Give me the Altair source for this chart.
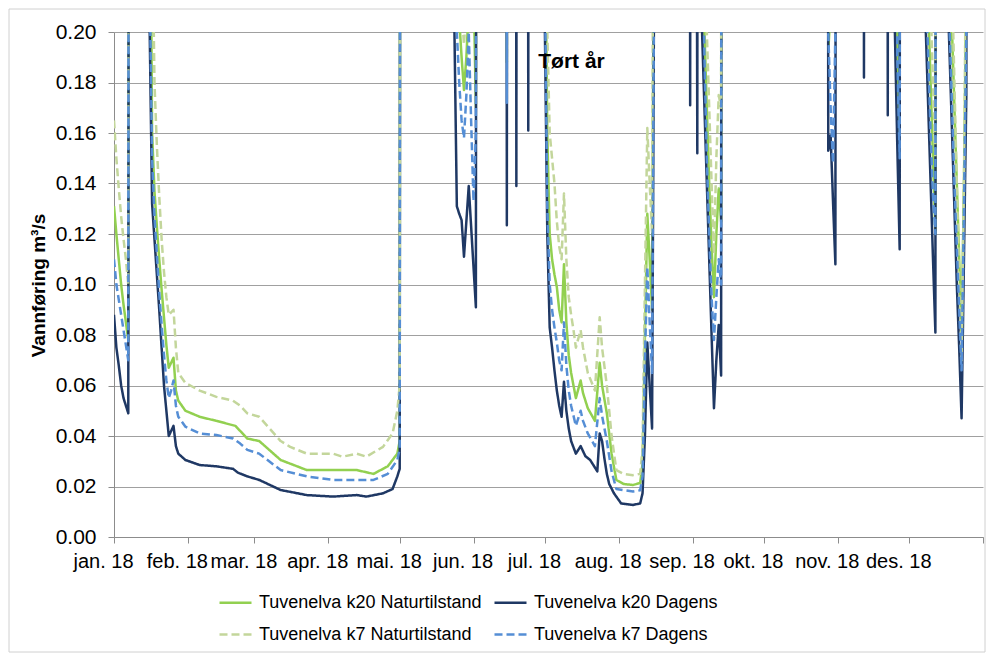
import altair as alt
import pandas as pd

SERIES = ["Tuvenelva k20 Naturtilstand", "Tuvenelva k20 Dagens",
          "Tuvenelva k7 Naturtilstand", "Tuvenelva k7 Dagens"]
COLORS = ["#92D050", "#1F3864", "#C3D69B", "#558ED5"]
DASHES = [[1, 0], [1, 0], [8, 4], [8, 4]]

MONTH_STARTS = [0, 31, 59, 90, 120, 151, 181, 212, 243, 273, 304, 334, 365]
MONTH_LABELS = ["jan. 18", "feb. 18", "mar. 18", "apr. 18", "mai. 18", "jun. 18",
                "jul. 18", "aug. 18", "sep. 18", "okt. 18", "nov. 18", "des. 18", ""]
Y_TICKS = [0.0, 0.02, 0.04, 0.06, 0.08, 0.10, 0.12, 0.14, 0.16, 0.18, 0.20]
ANNOTATION = "Tørt år"
Y_TITLE = "Vannføring m³/s"

# day of year (0 = 1 Jan 2018) and discharge in m3/s; values above 0.20 run off the top
k20_dag_days = [0, 1, 2, 3, 4, 5, 6, 7,
                14, 15, 16, 17, 18, 19, 20, 21, 22, 23, 24, 25, 26, 27, 30, 36, 43, 50, 52, 56, 61,
                70, 81, 92, 102, 106, 113, 117, 119, 120, 121,
                142, 143, 144, 145, 146, 147, 148, 149, 150, 151, 152, 153,
                164, 165, 166, 168, 169, 170, 173, 174, 175,
                180, 181, 182, 183, 184, 185, 186, 187, 188, 189, 190, 191, 192, 194, 196, 198, 200,
                203, 204, 205, 206, 207, 208, 210, 213, 218, 221, 222, 223, 224, 225, 226, 227, 228,
                241, 242, 243, 244, 245, 246, 247, 248, 249, 250, 251, 252, 253, 254, 255, 256,
                299, 300, 301, 302, 303, 304, 314, 315, 316, 324, 325, 326,
                327, 328, 329, 330, 331, 340, 341, 342, 343, 344, 345, 346,
                349, 350, 351, 352, 353, 354, 355, 356, 357, 358, 359, 364]
k20_dag_vals = [0.088, 0.075, 0.068, 0.060, 0.055, 0.052, 0.049, 1.5,
                1.5, 0.20, 0.132, 0.118, 0.104, 0.090, 0.075, 0.060, 0.050, 0.040, 0.042, 0.044, 0.036, 0.033, 0.0305, 0.0285, 0.028, 0.027, 0.0255, 0.024, 0.0226,
                0.0186, 0.0166, 0.016, 0.0166, 0.016, 0.0173, 0.019, 0.024, 0.027, 1.5,
                1.5, 0.20, 0.131, 0.128, 0.1255, 0.111, 0.125, 0.139, 0.123, 0.107, 0.091, 1.5,
                1.5, 0.1235, 1.5, 1.5, 0.139, 1.5, 1.5, 0.161, 1.5,
                1.5, 0.20, 0.12, 0.083, 0.075, 0.066, 0.058, 0.052, 0.0476, 0.0615, 0.050, 0.043, 0.038, 0.033, 0.036, 0.032, 0.0305,
                0.026, 0.041, 0.038, 0.031, 0.025, 0.021, 0.0173, 0.0133, 0.0127, 0.0133, 0.0173, 0.040, 0.077, 0.060, 0.043, 0.25, 1.5,
                1.5, 0.171, 1.5, 0.6, 0.152, 1.5, 0.20, 0.17, 0.14, 0.11, 0.08, 0.051, 0.070, 0.084, 0.064, 1.5,
                1.5, 0.153, 0.159, 0.133, 0.108, 1.5, 1.5, 0.182, 1.5, 1.5, 0.167, 1.5,
                1.5, 0.20, 0.155, 0.114, 1.5, 1.5, 0.20, 0.17, 0.14, 0.11, 0.081, 1.5,
                1.5, 0.22, 0.19, 0.16, 0.13, 0.10, 0.075, 0.047, 0.11, 0.175, 1.5, 1.5]

k20_nat_days = [0, 1, 2, 3, 4, 5, 6, 7,
                14, 15, 16, 17, 18, 19, 20, 21, 22, 23, 24, 25, 26, 27, 30, 36, 43, 51, 53, 56, 61,
                70, 81, 92, 102, 109, 115, 119, 120, 121,
                143, 144, 145, 146, 147, 148, 149, 150, 151, 152, 153, 164, 165, 166,
                180, 181, 182, 183, 184, 185, 186, 187, 188, 189, 190, 191, 192, 193, 194, 196, 197, 199,
                202, 204, 205, 207, 209, 211, 214, 218, 221, 222, 223, 224, 225, 226, 227, 228,
                246, 247, 248, 249, 250, 251, 252, 253, 254, 255, 256,
                299, 300, 301, 302, 328, 329, 330, 331,
                340, 341, 342, 343, 344, 345, 346,
                349, 350, 351, 352, 353, 354, 355, 356, 357, 358, 359, 364]
k20_nat_vals = [0.131, 0.12, 0.11, 0.10, 0.092, 0.085, 0.078, 1.5,
                1.5, 0.30, 0.16, 0.137, 0.123, 0.11, 0.098, 0.087, 0.076, 0.067, 0.069, 0.071, 0.058, 0.054, 0.050, 0.0476, 0.046, 0.044, 0.042, 0.039, 0.038,
                0.0305, 0.0265, 0.0265, 0.0265, 0.025, 0.028, 0.033, 0.038, 1.5,
                1.5, 0.22, 0.205, 0.19, 0.177, 0.19, 0.21, 0.30, 0.22, 0.17, 1.5, 1.5, 0.188, 1.5,
                1.5, 0.25, 0.16, 0.12, 0.11, 0.104, 0.099, 0.09, 0.085, 0.108, 0.085, 0.072, 0.065, 0.06, 0.055, 0.062, 0.057, 0.051,
                0.046, 0.069, 0.06, 0.049, 0.033, 0.0226, 0.021, 0.0206, 0.0214, 0.029, 0.08, 0.128, 0.11, 0.09, 0.30, 1.5,
                1.5, 0.30, 0.20, 0.17, 0.14, 0.115, 0.095, 0.12, 0.138, 0.125, 1.5,
                1.5, 0.192, 0.21, 1.5, 1.5, 0.20, 0.152, 1.5,
                1.5, 0.25, 0.21, 0.18, 0.15, 0.12, 1.5,
                1.5, 0.27, 0.23, 0.20, 0.17, 0.14, 0.11, 0.08, 0.14, 0.22, 1.5, 1.5]

k7_nat_days = [0, 1, 2, 3, 4, 5, 6, 7,
               14, 15, 16, 17, 18, 19, 20, 21, 22, 23, 24, 25, 26, 27, 30, 33, 36, 43, 50, 53, 56, 61,
               70, 74, 81, 92, 96, 102, 106, 113, 117, 119, 120, 121,
               143, 146, 147, 148, 149,
               180, 181, 182, 183, 184, 185, 186, 187, 188, 189, 190, 191, 192, 193, 194, 196, 197, 199,
               202, 204, 205, 207, 209, 211, 214, 218, 221, 222, 223, 224, 225, 226, 227, 228,
               246, 247, 248, 249, 250, 251, 252, 253, 254, 255, 256,
               340, 341, 342, 343, 344, 345, 346,
               349, 350, 351, 352, 353, 354, 355, 356, 357, 358, 359, 364]
k7_nat_vals = [0.165, 0.15, 0.138, 0.127, 0.118, 0.11, 0.10, 1.5,
               1.5, 0.50, 0.25, 0.18, 0.155, 0.135, 0.118, 0.105, 0.095, 0.088, 0.089, 0.09, 0.075, 0.065, 0.061, 0.0595, 0.058, 0.0555, 0.054, 0.052, 0.049, 0.0476,
               0.038, 0.0357, 0.033, 0.033, 0.0318, 0.033, 0.0318, 0.0357, 0.041, 0.05, 0.06, 1.5,
               1.5, 0.21, 0.195, 0.21, 1.5,
               1.5, 0.30, 0.20, 0.16, 0.15, 0.14, 0.125, 0.115, 0.11, 0.136, 0.11, 0.095, 0.088, 0.082, 0.075, 0.082, 0.075, 0.065,
               0.058, 0.087, 0.075, 0.06, 0.04, 0.0265, 0.025, 0.0245, 0.025, 0.035, 0.10, 0.162, 0.14, 0.12, 0.40, 1.5,
               1.5, 0.80, 0.25, 0.20, 0.17, 0.14, 0.112, 0.15, 0.175, 0.17, 1.5,
               1.5, 0.30, 0.25, 0.21, 0.18, 0.15, 1.5,
               1.5, 0.30, 0.26, 0.22, 0.18, 0.14, 0.10, 0.07, 0.14, 0.25, 1.5, 1.5]

k7_dag_days = [0, 1, 2, 3, 4, 5, 6, 7,
               14, 15, 16, 17, 18, 19, 20, 21, 22, 23, 24, 25, 26, 27, 30, 36, 43, 50, 53, 56, 61,
               70, 81, 92, 109, 115, 119, 120, 121,
               143, 144, 145, 146, 147, 148, 149, 150, 151, 152, 153, 164, 165, 166,
               180, 181, 182, 183, 184, 185, 186, 187, 188, 189, 190, 191, 192, 193, 194, 196, 197, 199,
               202, 204, 205, 207, 209, 211, 218, 221, 222, 223, 224, 225, 226, 227, 228,
               246, 247, 248, 249, 250, 251, 252, 253, 254, 255, 256,
               299, 300, 301, 302, 303, 304, 328, 329, 330, 331,
               340, 341, 342, 343, 344, 345, 346,
               349, 350, 351, 352, 353, 354, 355, 356, 357, 358, 359, 364]
k7_dag_vals = [0.11, 0.10, 0.094, 0.088, 0.082, 0.076, 0.07, 1.5,
               1.5, 0.22, 0.15, 0.127, 0.112, 0.097, 0.084, 0.072, 0.062, 0.055, 0.058, 0.062, 0.052, 0.0476, 0.0437, 0.041, 0.0404, 0.039, 0.037, 0.0345, 0.033,
               0.0265, 0.024, 0.0226, 0.0226, 0.025, 0.0305, 0.035, 1.5,
               1.5, 0.20, 0.18, 0.165, 0.158, 0.175, 0.20, 0.165, 0.133, 0.16, 1.5, 1.5, 0.172, 1.5,
               1.5, 0.22, 0.13, 0.10, 0.09, 0.083, 0.077, 0.07, 0.066, 0.085, 0.068, 0.058, 0.052, 0.048, 0.044, 0.05, 0.046, 0.041,
               0.036, 0.055, 0.048, 0.038, 0.026, 0.019, 0.018, 0.0185, 0.024, 0.07, 0.107, 0.085, 0.065, 0.25, 1.5,
               1.5, 0.25, 0.19, 0.15, 0.12, 0.095, 0.078, 0.095, 0.11, 0.10, 1.5,
               1.5, 0.20, 0.17, 0.148, 0.20, 1.5, 1.5, 0.19, 0.15, 1.5,
               1.5, 0.22, 0.19, 0.16, 0.135, 0.12, 1.5,
               1.5, 0.24, 0.20, 0.17, 0.14, 0.115, 0.09, 0.066, 0.13, 0.20, 1.5, 1.5]

SERIES_DATA = [
    (SERIES[0], k20_nat_days, k20_nat_vals),
    (SERIES[1], k20_dag_days, k20_dag_vals),
    (SERIES[2], k7_nat_days, k7_nat_vals),
    (SERIES[3], k7_dag_days, k7_dag_vals),
]

FONT = "Liberation Sans"

label_expr = "[" + ",".join("'" + s + "'" for s in MONTH_LABELS) + "][indexof([" + \
    ",".join(str(d) for d in MONTH_STARTS) + "], datum.value)]"

x_enc = alt.X("day:Q", scale=alt.Scale(domain=[0, 365], nice=False, zero=False),
              axis=alt.Axis(values=MONTH_STARTS, labelExpr=label_expr, grid=False,
                            title=None, tickSize=6, labelPadding=8, labelFontSize=20,
                            labelOffset=-11,
                            labelFont=FONT, labelColor="#000000", domainColor="#8C8C8C",
                            tickColor="#8C8C8C", labelFlush=False, labelOverlap=False))
y_enc = alt.Y("value:Q", scale=alt.Scale(domain=[0, 0.2], nice=False, zero=True),
              axis=alt.Axis(values=Y_TICKS, format=".2f", title=Y_TITLE, tickSize=6,
                            labelPadding=12, labelFontSize=21, labelFont=FONT,
                            labelColor="#000000", domainColor="#8C8C8C", tickColor="#8C8C8C",
                            gridColor="#A0A0A0", grid=True, titleFont=FONT, titleFontSize=19,
                            titleFontWeight="bold", titleColor="#000000", titleX=-76, titleY=253,
                            titleAngle=270, titleAlign="center", titleBaseline="middle"))

legend = alt.Legend(title=None, orient="none", legendX=104, legendY=553, columns=2,
                    direction="horizontal", symbolType="stroke", symbolSize=1024,
                    symbolStrokeWidth=2.5, labelFont=FONT, labelFontSize=18, labelLimit=0,
                    labelColor="#000000", columnPadding=7, rowPadding=5, labelOffset=6)
color_enc = alt.Color("series:N", scale=alt.Scale(domain=SERIES, range=COLORS), legend=legend)
dash_enc = alt.StrokeDash("series:N", scale=alt.Scale(domain=SERIES, range=DASHES), legend=legend)

layers = []
for name, days, vals in SERIES_DATA:
    df = pd.DataFrame({"day": days, "value": vals, "series": name})
    layers.append(
        alt.Chart(df).mark_line(clip=True, strokeWidth=2.5, strokeJoin="round")
        .encode(x=x_enc, y=y_enc, color=color_enc, strokeDash=dash_enc)
    )

note = alt.Chart(pd.DataFrame({"t": [ANNOTATION]})).mark_text(
    font=FONT, fontSize=21, fontWeight="bold", color="#000000", align="center", baseline="middle"
).encode(x=alt.value(457.5), y=alt.value(29.5), text="t:N")

frame = alt.Chart(pd.DataFrame({"a": [0]})).mark_rect(
    filled=False, stroke="#D0D0D0", strokeWidth=1, clip=False
).encode(x=alt.value(-105), x2=alt.value(871), y=alt.value(-23), y2=alt.value(620))

chart = alt.layer(frame, *layers, note).properties(
    width=869, height=505,
    padding={"left": 114, "top": 32, "right": 4, "bottom": 116},
    autosize=alt.AutoSizeParams(type="none"),
    background="#FFFFFF",
).configure_view(stroke="transparent")

chart.save("out.html", embed_options={"renderer": "svg", "actions": False})
